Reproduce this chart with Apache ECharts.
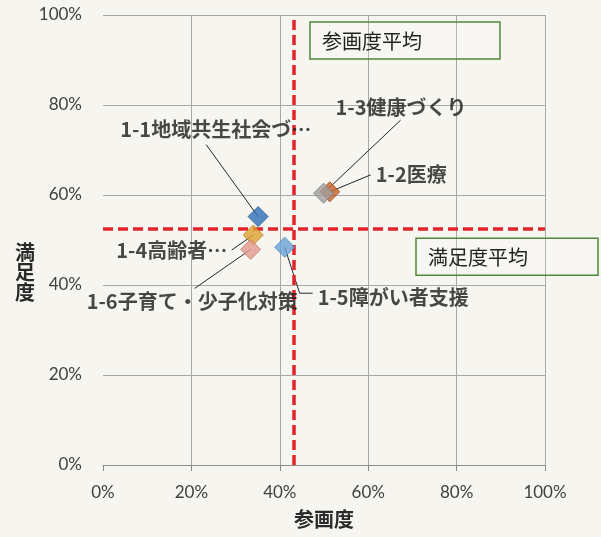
<!DOCTYPE html>
<html>
<head>
<meta charset="utf-8">
<script src="https://cdn.jsdelivr.net/npm/echarts@6/dist/echarts.min.js"></script>
<style>
  html, body { margin: 0; padding: 0; background: #f6f5f0; }
  #chart { width: 601px; height: 537px; }
</style>
</head>
<body>
<div id="chart"></div>
<script>
// ---- data ----
const itemNames = ['1-1地域共生社会づ…', '1-2医療', '1-3健康づくり', '1-4高齢者…', '1-5障がい者支援', '1-6子育て・少子化対策'];
const participation = [35.1, 51.3, 49.9, 34.0, 41.1, 33.4];   // 参画度 (%)
const satisfaction = [55.2, 60.7, 60.4, 51.1, 48.4, 47.9];    // 満足度 (%)
const participationAvg = 43.2;
const satisfactionAvg = 52.4;
const axisTicks = [0, 20, 40, 60, 80, 100];
const xAxisTitle = '参画度';
const yAxisTitle = '満足度';
const xAvgTitle = '参画度平均';
const yAvgTitle = '満足度平均';

// ---- styling / layout ----
const markerColors = ['#2f6fb7', '#c7622b', '#a0a0a0', '#e0a331', '#6aa3d8', '#e39a8d'];
const markerBorders = ['#22558f', '#9c4a1f', '#7a7a7a', '#b8842a', '#4f86ba', '#c07a6e'];
// label anchor (left, middle) relative to its marker, in px
const labelOffsets = [[-138, -87], [46, -17], [12, -86], [-137, 15], [33, 50], [-164, 52]];
// leader line vertices relative to the marker, in px
const leaderPaths = [[[-52, -72]], [[41, -17]], [[77, -73]], [[-21.6, 15]], [[15, 46], [28, 46]], [[-56, 39]]];

const tickFont = { fontFamily: 'Lato, "Noto Sans", sans-serif', fontSize: 17, color: '#404040' };
const cjkFont = '"Noto Sans CJK JP", sans-serif';

const chart = echarts.init(document.getElementById('chart'), null, { renderer: 'canvas' });

const points = participation.map((x, i) => ({
  name: itemNames[i],
  value: [x, satisfaction[i]],
  itemStyle: { color: markerColors[i], borderColor: markerBorders[i], borderWidth: 1 }
}));

const option = {
  backgroundColor: '#f6f5f0',
  animation: false,
  grid: { left: 103, right: 56, top: 15, bottom: 72, containLabel: false },
  xAxis: {
    type: 'value',
    min: axisTicks[0],
    max: axisTicks[axisTicks.length - 1],
    interval: axisTicks[1] - axisTicks[0],
    axisLine: { show: true, lineStyle: { color: '#8a8a8a', width: 1 } },
    axisTick: { show: true, inside: false, length: 6, lineStyle: { color: '#8a8a8a' } },
    axisLabel: Object.assign({ margin: 19, formatter: '{value}%' }, tickFont),
    splitLine: { show: true, showMinLine: false, lineStyle: { color: '#a8a8a8', width: 1 } },
    name: xAxisTitle,
    nameLocation: 'middle',
    nameGap: 44,
    nameTextStyle: { fontFamily: cjkFont, fontSize: 20, fontWeight: 'bold', color: '#2a2a2a' }
  },
  yAxis: {
    type: 'value',
    min: axisTicks[0],
    max: axisTicks[axisTicks.length - 1],
    interval: axisTicks[1] - axisTicks[0],
    axisLine: { show: false },
    axisTick: { show: false },
    axisLabel: Object.assign({ margin: 21, formatter: '{value}%' }, tickFont),
    splitLine: { show: true, lineStyle: { color: '#a8a8a8', width: 1 } }
  },
  series: [{
    type: 'scatter',
    symbol: 'diamond',
    symbolSize: 20,
    data: points,
    z: 5,
    label: {
      show: true,
      formatter: '{b}',
      fontFamily: cjkFont,
      fontSize: 20,
      fontWeight: 'bold',
      color: '#1c1c1c'
    },
    labelLayout: function (params) {
      const i = params.dataIndex;
      const cx = params.rect.x + params.rect.width / 2;
      const cy = params.rect.y + params.rect.height / 2;
      return {
        x: cx + labelOffsets[i][0],
        y: cy + labelOffsets[i][1],
        align: 'left',
        verticalAlign: 'middle'
      };
    },
    markLine: {
      silent: true,
      symbol: ['none', 'none'],
      label: { show: false },
      lineStyle: { color: '#e3232b', type: [10, 5], width: 3.5 },
      data: [{ xAxis: participationAvg }, { yAxis: satisfactionAvg }]
    }
  }]
};

chart.setOption(option);

// leader lines and average captions, positioned from the axes' own scales
const toPx = v => chart.convertToPixel({ gridIndex: 0 }, v);
const graphics = [];

participation.forEach((x, i) => {
  const p = toPx([x, satisfaction[i]]);
  const pts = [p].concat(leaderPaths[i].map(o => [p[0] + o[0], p[1] + o[1]]));
  graphics.push({
    type: 'polyline',
    z: 1,
    shape: { points: pts },
    style: { stroke: '#262626', lineWidth: 1, fill: null }
  });
});

const topLeft = toPx([axisTicks[0], axisTicks[axisTicks.length - 1]]);
const bottomRight = toPx([axisTicks[axisTicks.length - 1], axisTicks[0]]);
const vLine = toPx([participationAvg, axisTicks[axisTicks.length - 1]]);
const hLine = toPx([axisTicks[0], satisfactionAvg]);

function captionBox(x, y, w, h, text) {
  return {
    type: 'group',
    x: x, y: y, z: 1,
    children: [
      { type: 'rect', shape: { x: 0, y: 0, width: w, height: h },
        style: { fill: 'rgba(255,255,255,0.15)', stroke: '#4f8a3a', lineWidth: 1.5 } },
      { type: 'text', x: 12, y: h / 2 + 1,
        style: { text: text, fontFamily: cjkFont, fontSize: 20, fill: '#222', verticalAlign: 'middle', align: 'left' } }
    ]
  };
}

graphics.push(captionBox(vLine[0] + 16, topLeft[1] + 7, 190, 37, xAvgTitle));
graphics.push(captionBox(bottomRight[0] - 129, hLine[1] + 9, 182, 37, yAvgTitle));

// vertical y-axis title
graphics.push({
  type: 'text',
  x: 25, y: 242,
  style: {
    text: yAxisTitle.split('').join('\n'),
    fontFamily: cjkFont, fontSize: 20, fontWeight: 'bold', lineHeight: 20,
    fill: '#2a2a2a', align: 'center', verticalAlign: 'top'
  }
});

chart.setOption({ graphic: graphics });
</script>
</body>
</html>
